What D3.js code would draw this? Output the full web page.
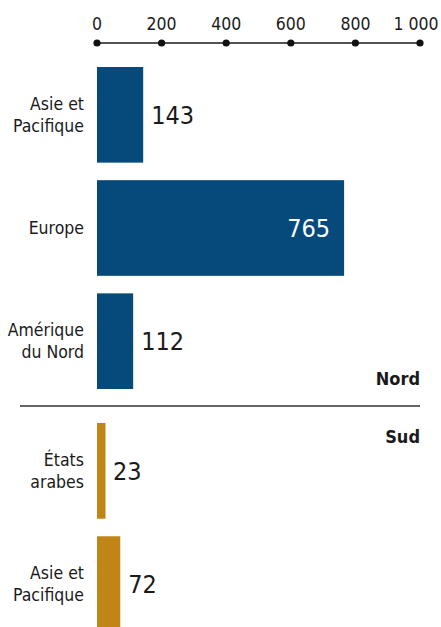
<!DOCTYPE html>
<html>
<head>
<meta charset="utf-8">
<style>
  body { margin: 0; background: #fff; }
  svg text { font-family: "DejaVu Sans Condensed", "DejaVu Sans", sans-serif; font-stretch: condensed; fill: #1a1a1a; }
</style>
</head>
<body>
<script src="https://d3js.org/d3.v7.min.js"></script>
<script>
var width = 441, height = 627;

// data
var nordCategories = [["Asie et", "Pacifique"], ["Europe"], ["Amérique", "du Nord"]];
var nordValues = [143, 765, 112];
var sudCategories = [["États", "arabes"], ["Asie et", "Pacifique"]];
var sudValues = [23, 72];
var tickValues = [0, 200, 400, 600, 800, 1000];
var tickLabels = ["0", "200", "400", "600", "800", "1 000"];

var blue = "#054a7a", gold = "#c08417";

var svg = d3.select("body").append("svg")
    .attr("width", width)
    .attr("height", height);

var x = d3.scaleLinear().domain([0, 1000]).range([97, 420]);

// top axis: line with dots
var axisY = 43;
svg.append("line")
    .attr("x1", x(0)).attr("x2", x(1000))
    .attr("y1", axisY).attr("y2", axisY)
    .attr("stroke", "#1a1a1a").attr("stroke-width", 1.6);

svg.selectAll("circle.tick")
    .data(tickValues)
    .enter().append("circle")
    .attr("class", "tick")
    .attr("cx", function(d) { return x(d); })
    .attr("cy", axisY)
    .attr("r", 3.6)
    .attr("fill", "#111");

svg.selectAll("text.ticklabel")
    .data(tickValues)
    .enter().append("text")
    .attr("class", "ticklabel")
    .attr("x", function(d, i) { return i === tickValues.length - 1 ? x(d) - 4 : x(d); })
    .attr("y", 30)
    .attr("text-anchor", "middle")
    .style("font-size", "17.5px")
    .text(function(d, i) { return tickLabels[i]; });

function drawGroup(cats, vals, y0, y1, color) {
    var y = d3.scaleBand()
        .domain(d3.range(cats.length))
        .range([y0, y1])
        .paddingInner(0.155)
        .paddingOuter(0);

    var g = svg.append("g");

    g.selectAll("rect")
        .data(vals)
        .enter().append("rect")
        .attr("x", x(0))
        .attr("y", function(d, i) { return y(i); })
        .attr("width", function(d) { return Math.max(x(d) - x(0), 8.5); })
        .attr("height", y.bandwidth())
        .attr("fill", color);

    // value labels
    g.selectAll("text.val")
        .data(vals)
        .enter().append("text")
        .attr("class", "val")
        .attr("x", function(d) { return d > 500 ? x(d) - 14 : Math.max(x(d), x(0) + 8) + 8; })
        .attr("y", function(d, i) { return y(i) + y.bandwidth() / 2; })
        .attr("dy", "0.36em")
        .attr("text-anchor", function(d) { return d > 500 ? "end" : "start"; })
        .style("font-size", "25px")
        .style("fill", function(d) { return d > 500 ? "#fff" : "#1a1a1a"; })
        .text(function(d) { return d; });

    // category labels
    var lab = g.selectAll("text.cat")
        .data(cats)
        .enter().append("text")
        .attr("class", "cat")
        .attr("text-anchor", "end")
        .style("font-size", "17.5px")
        .attr("transform", function(d, i) {
            return "translate(84," + (y(i) + y.bandwidth() / 2) + ")";
        });
    lab.selectAll("tspan")
        .data(function(d) { return d; })
        .enter().append("tspan")
        .attr("x", 0)
        .attr("y", function(d, j, nodes) { return (j - (nodes.length - 1) / 2) * 22; })
        .attr("dy", "0.35em")
        .text(function(d) { return d; });
}

drawGroup(nordCategories, nordValues, 67, 389, blue);
drawGroup(sudCategories, sudValues, 423, 632, gold);

// divider and group labels
svg.append("line")
    .attr("x1", 20).attr("x2", 420)
    .attr("y1", 406).attr("y2", 406)
    .attr("stroke", "#333").attr("stroke-width", 1.3);

svg.append("text")
    .attr("x", 420).attr("y", 385)
    .attr("text-anchor", "end")
    .style("font-size", "18px").style("font-weight", "bold")
    .text("Nord");

svg.append("text")
    .attr("x", 420).attr("y", 443)
    .attr("text-anchor", "end")
    .style("font-size", "18px").style("font-weight", "bold")
    .text("Sud");
</script>
</body>
</html>
